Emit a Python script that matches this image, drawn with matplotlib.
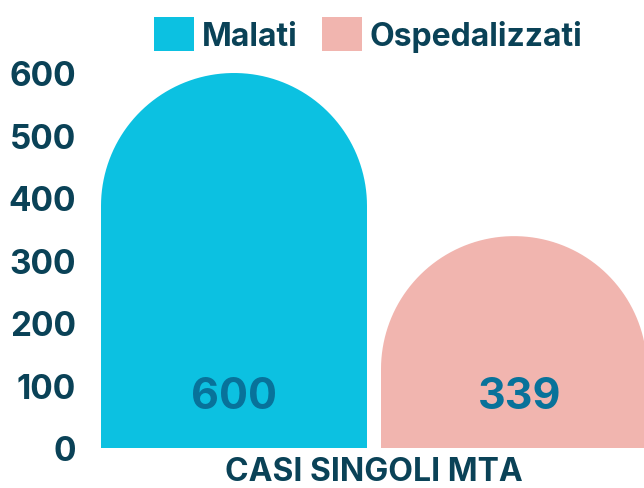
import numpy as np
import matplotlib.pyplot as plt
from matplotlib.path import Path
from matplotlib.patches import PathPatch, Patch

# dati
categorie = ["Malati", "Ospedalizzati"]
valori = [600, 339]
colori = ["#0CC1E1", "#F1B5AF"]
tick_y = [0, 100, 200, 300, 400, 500, 600]
etichetta_x = "CASI SINGOLI MTA"

testo_scuro = "#0A4257"
testo_valori = "#08729A"

plt.rcParams['font.family'] = ['Inter', 'DejaVu Sans']
plt.rcParams['font.weight'] = 'bold'

W, H = 644, 489
fig = plt.figure(figsize=(W / 100, H / 100), dpi=100)

# assi in pixel
ax_l, ax_r, ax_b, ax_t = 101, 647, 449, 74
ax = fig.add_axes([ax_l / W, (H - ax_b) / H, (ax_r - ax_l) / W, (ax_b - ax_t) / H])

larghezza = 0.95
ax.set_xlim(-larghezza / 2, 1 + larghezza / 2)
ax.set_ylim(0, 600)

px_x = (ax_r - ax_l) / (1 + larghezza)
px_y = (ax_b - ax_t) / 600.0

# barre con la cima arrotondata (semicerchio in pixel)
rx = larghezza / 2
ry = rx * px_x / px_y
for i, (v, c) in enumerate(zip(valori, colori)):
    x0, x1 = i - rx, i + rx
    ang = np.linspace(np.pi, 0, 80)
    arco = np.column_stack([i + rx * np.cos(ang), v - ry + ry * np.sin(ang)])
    verts = np.vstack([[x0, 0], [x0, v - ry], arco, [x1, v - ry], [x1, 0], [x0, 0]])
    codes = [Path.MOVETO] + [Path.LINETO] * (len(verts) - 2) + [Path.CLOSEPOLY]
    ax.add_patch(PathPatch(Path(verts, codes), facecolor=c, edgecolor='none', clip_on=False))
    ax.text(i + 0.02 * i, 83, str(v), ha='center', va='center', fontsize=31,
            fontweight='bold', color=testo_valori)

ax.set_yticks(tick_y)
ax.set_yticklabels([str(t) for t in tick_y], fontsize=24, fontweight='bold', color=testo_scuro)
ax.tick_params(axis='y', length=0, pad=18)
ax.set_xticks([])
for s in ax.spines.values():
    s.set_visible(False)

# etichetta asse x (in basso, come nell'originale)
fig.text((ax_l + ax_r) / 2 / W, 1 / H, etichetta_x, ha='center', va='bottom',
         fontsize=23, fontweight='bold', color=testo_scuro)

handles = [Patch(facecolor=c, edgecolor='none') for c in colori]
fig.legend(handles, categorie, loc='upper left', bbox_to_anchor=(154 / W, 1 - 18 / H),
           ncol=2, frameon=False, borderpad=0, borderaxespad=0,
           handlelength=1.25, handleheight=1.25, handletextpad=0.25, columnspacing=0.75,
           prop={'family': 'Inter', 'weight': 'bold', 'size': 23}, labelcolor=testo_scuro)

fig.savefig("out.png", dpi=100)
